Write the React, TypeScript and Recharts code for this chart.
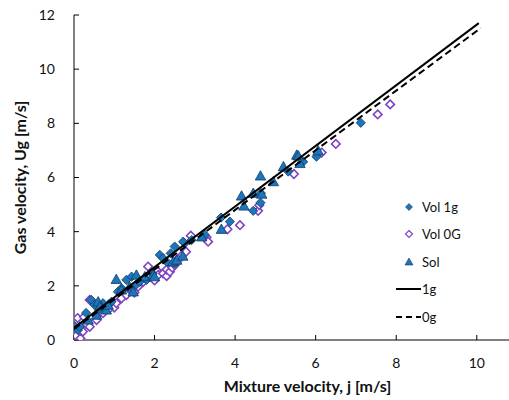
import { ScatterChart, Scatter, XAxis, YAxis, Legend } from 'recharts';

// [j, Ug] pairs
const vol1g: [number, number][] = [
  [0.02, 0.5], [0.1, 0.37], [0.14, 0.49], [0.3, 1.0], [0.43, 1.48], [0.51, 1.29],
  [0.65, 1.15], [0.72, 1.36], [0.93, 1.41], [1.09, 1.78], [1.18, 1.91], [1.3, 2.22],
  [1.43, 2.34], [1.55, 2.05], [1.63, 2.15], [1.8, 2.22], [1.95, 2.45], [2.13, 3.14],
  [2.21, 3.02], [2.3, 2.89], [2.4, 3.2], [2.5, 2.83], [2.5, 3.45], [2.75, 3.57],
  [2.71, 3.63], [2.92, 3.69], [3.25, 3.88], [3.65, 4.52], [3.87, 4.37], [4.45, 4.77],
  [4.63, 5.07], [4.64, 5.42], [5.32, 6.22], [5.69, 6.58], [6.02, 6.77], [7.12, 8.02],
];

const vol0g: [number, number][] = [
  [0.05, 0.15], [0.16, 0.06], [0.09, 0.81], [0.22, 0.31], [0.25, 0.85], [0.3, 0.6],
  [0.39, 0.49], [0.39, 1.48], [0.56, 0.74], [0.6, 0.95], [0.72, 0.99], [0.89, 1.17],
  [1.0, 1.2], [1.05, 1.36], [1.18, 1.54], [1.3, 1.66], [1.43, 1.85], [1.5, 1.75],
  [1.59, 1.97], [1.72, 2.15], [1.84, 2.71], [1.88, 2.34], [2.0, 2.2], [2.05, 2.58],
  [2.09, 2.4], [2.21, 2.46], [2.3, 2.36], [2.3, 2.6], [2.38, 2.52], [2.44, 2.67],
  [2.5, 2.77], [2.57, 2.98], [2.63, 3.02], [2.69, 3.14], [2.78, 3.26], [2.9, 3.85],
  [3.29, 3.79], [3.33, 3.63], [3.81, 4.09], [4.12, 4.24], [4.57, 4.77], [4.6, 4.98],
  [5.46, 6.13], [6.15, 6.92], [6.5, 7.24], [7.54, 8.33], [7.85, 8.7],
];

const sol: [number, number][] = [
  [0.35, 0.74], [0.56, 0.92], [0.6, 1.41], [0.64, 1.23], [0.8, 1.11], [0.85, 1.29],
  [1.05, 2.24], [1.18, 1.85], [1.38, 1.97], [1.47, 1.78], [1.55, 2.4], [1.76, 2.34],
  [1.96, 2.4], [2.0, 2.34], [2.46, 2.89], [2.55, 2.95], [2.7, 3.1], [3.17, 3.81],
  [3.66, 4.09], [4.16, 5.32], [4.22, 4.95], [4.45, 5.42], [4.63, 6.06], [4.66, 5.39],
  [4.95, 5.85], [5.2, 6.4], [5.53, 6.83], [5.57, 6.8], [5.61, 6.52], [6.06, 6.99],
];

// model lines (end points)
const line1g: [number, number][] = [[0, 0.45], [10.05, 11.7]];
const line0g: [number, number][] = [[0, 0.4], [10.1, 11.52]];

const xTicks = [0, 2, 4, 6, 8, 10];
const yTicks = [0, 2, 4, 6, 8, 10, 12];

const toPts = (arr: [number, number][]) => arr.map(([j, ug]) => ({ j, ug }));

const FONT = 'Lato, "Open Sans", sans-serif';
const BLUE = '#1b76bd';
const NAVY = '#123a5e';
const PURPLE = '#7d45c2';

const BlueDiamond = (p: any) => {
  const { cx, cy } = p;
  const r = 4.6;
  return <path d={`M${cx},${cy - r}L${cx + r},${cy}L${cx},${cy + r}L${cx - r},${cy}Z`} fill={BLUE} stroke={NAVY} strokeWidth={0.8} />;
};

const PurpleDiamond = (p: any) => {
  const { cx, cy } = p;
  const r = 4.3;
  return <path d={`M${cx},${cy - r}L${cx + r},${cy}L${cx},${cy + r}L${cx - r},${cy}Z`} fill="#fff" stroke={PURPLE} strokeWidth={1.6} />;
};

const Triangle = (p: any) => {
  const { cx, cy } = p;
  const s = 5.2;
  return <path d={`M${cx},${cy - s}L${cx + s},${cy + s * 0.8}L${cx - s},${cy + s * 0.8}Z`} fill={BLUE} stroke={NAVY} strokeWidth={0.8} />;
};

const NoShape = () => <g />;

function renderLegend() {
  const rows = [
    { label: 'Vol 1g', icon: <path d="M13,3.5L16.5,7L13,10.5L9.5,7Z" fill={BLUE} stroke={NAVY} strokeWidth={0.6} /> },
    { label: 'Vol 0G', icon: <path d="M13,3.5L16.5,7L13,10.5L9.5,7Z" fill="#fff" stroke={PURPLE} strokeWidth={1.2} /> },
    { label: 'Sol', icon: <path d="M13,3L17,10L9,10Z" fill={BLUE} stroke={NAVY} strokeWidth={0.6} /> },
    { label: '1g', icon: <line x1={0} y1={7} x2={25} y2={7} stroke="#000" strokeWidth={2} /> },
    { label: '0g', icon: <line x1={0} y1={7} x2={25} y2={7} stroke="#000" strokeWidth={2} strokeDasharray="6 4" /> },
  ];
  return (
    <div style={{ fontFamily: FONT, fontSize: 13, color: '#111' }}>
      {rows.map((r) => (
        <div key={r.label} style={{ display: 'flex', alignItems: 'center', height: 27.5 }}>
          <svg width={26} height={14} style={{ marginRight: 0 }}>{r.icon}</svg>
          <span>{r.label}</span>
        </div>
      ))}
    </div>
  );
}

export default function App() {
  return (
    <div style={{ position: 'absolute', left: 0, top: 0, width: 509, height: 400, background: '#fff' }}>
      <ScatterChart width={509} height={400} margin={{ top: 15, right: 0, left: 0, bottom: 0 }}>
        <XAxis
          type="number"
          dataKey="j"
          domain={[0, 10.8]}
          ticks={xTicks}
          allowDataOverflow
          height={60}
          tickSize={-5}
          tickMargin={23}
          stroke="#000"
          tick={{ fill: '#111', fontSize: 14, fontFamily: FONT }}
          label={{ value: 'Mixture velocity, j [m/s]', position: 'insideBottom', offset: 8, dx: 16, style: { fontFamily: FONT, fontSize: 16, fontWeight: 700, fill: '#111' } }}
        />
        <YAxis
          type="number"
          dataKey="ug"
          domain={[0, 12]}
          ticks={yTicks}
          allowDataOverflow
          width={74}
          tickSize={-5}
          tickMargin={24}
          stroke="#000"
          tick={{ fill: '#111', fontSize: 14, fontFamily: FONT }}
          label={{ value: 'Gas velocity, Ug [m/s]', angle: -90, position: 'center', dx: -17, style: { fontFamily: FONT, fontSize: 16, fontWeight: 700, fill: '#111' } }}
        />
        <Legend
          layout="vertical"
          align="center"
          verticalAlign="middle"
          content={renderLegend}
          wrapperStyle={{ left: 396, top: 193, width: 90 }}
        />
        <Scatter name="Vol 0G" data={toPts(vol0g)} shape={PurpleDiamond} isAnimationActive={false} />
        <Scatter name="Vol 1g" data={toPts(vol1g)} shape={BlueDiamond} isAnimationActive={false} />
        <Scatter name="Sol" data={toPts(sol)} shape={Triangle} isAnimationActive={false} />
        <Scatter name="1g" data={toPts(line1g)} shape={NoShape} line={{ stroke: '#000', strokeWidth: 2 }} isAnimationActive={false} />
        <Scatter name="0g" data={toPts(line0g)} shape={NoShape} line={{ stroke: '#000', strokeWidth: 2, strokeDasharray: '7 4' }} isAnimationActive={false} />
      </ScatterChart>
    </div>
  );
}
